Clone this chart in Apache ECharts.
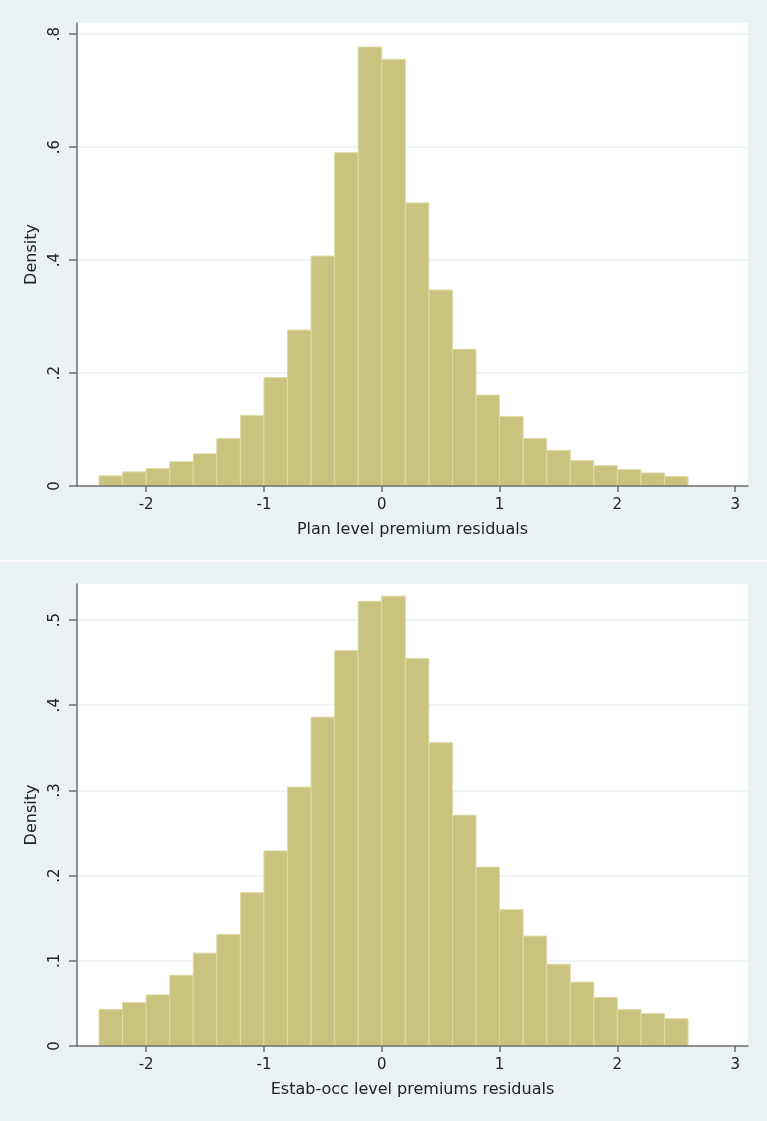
<!DOCTYPE html>
<html>
<head>
<meta charset="utf-8">
<script src="https://cdn.jsdelivr.net/npm/echarts@6/dist/echarts.min.js"></script>
<style>
  html, body { margin: 0; padding: 0; background: #eaf2f3; }
  #chart { width: 767px; height: 1121px; }
</style>
</head>
<body>
<div id="chart"></div>
<script>
// histogram bin edges (width 0.2)
const binEdges = [-2.4, -2.2, -2.0, -1.8, -1.6, -1.4, -1.2, -1.0, -0.8, -0.6, -0.4, -0.2,
                  0.0, 0.2, 0.4, 0.6, 0.8, 1.0, 1.2, 1.4, 1.6, 1.8, 2.0, 2.2, 2.4, 2.6];

// densities
const planDensity = [0.018, 0.025, 0.031, 0.043, 0.057, 0.084, 0.125, 0.192, 0.276, 0.407,
                     0.590, 0.777, 0.755, 0.501, 0.347, 0.242, 0.161, 0.123, 0.084, 0.063,
                     0.045, 0.036, 0.029, 0.023, 0.017];
const estabDensity = [0.043, 0.051, 0.060, 0.083, 0.109, 0.131, 0.180, 0.229, 0.304, 0.386,
                      0.464, 0.522, 0.528, 0.455, 0.356, 0.271, 0.210, 0.160, 0.129, 0.096,
                      0.075, 0.057, 0.043, 0.038, 0.032];

const xTicks = [-2, -1, 0, 1, 2, 3];
const planYTicks = [0, 0.2, 0.4, 0.6, 0.8];
const estabYTicks = [0, 0.1, 0.2, 0.3, 0.4, 0.5];

const xTitles = ['Plan level premium residuals', 'Estab-occ level premiums residuals'];

const font = 'DejaVu Sans';
const axisGray = '#6f6f6f';

function stataLabel(v) {
  if (v === 0) return '0';
  return String(+v.toFixed(2)).replace(/^0/, '');
}

function toBins(values) {
  return values.map((v, i) => [binEdges[i], binEdges[i + 1], v]);
}

function renderBar(params, api) {
  const p0 = api.coord([api.value(0), api.value(2)]);
  const p1 = api.coord([api.value(1), 0]);
  return {
    type: 'rect',
    shape: { x: p0[0], y: p0[1], width: p1[0] - p0[0], height: p1[1] - p0[1] },
    style: { fill: '#cac380', stroke: '#dedaa4', lineWidth: 1 }
  };
}

function xAxisFor(idx) {
  return {
    type: 'value',
    gridIndex: idx,
    min: -2.587,
    max: 3.109,
    z: 5,
    name: xTitles[idx],
    nameLocation: 'middle',
    nameGap: 36,
    nameTextStyle: { fontFamily: font, fontSize: 16, color: '#222' },
    axisLine: { show: true, onZero: false, lineStyle: { color: axisGray, width: 1.5 } },
    axisTick: { show: true, length: 6, customValues: xTicks, lineStyle: { color: axisGray, width: 1.5 } },
    axisLabel: { customValues: xTicks, fontFamily: font, fontSize: 15, color: '#222', margin: 12 },
    splitLine: { show: false }
  };
}

function yAxisFor(idx, max, ticks) {
  return {
    type: 'value',
    gridIndex: idx,
    min: 0,
    max: max,
    name: 'Density',
    nameLocation: 'middle',
    nameGap: 37,
    nameTextStyle: { fontFamily: font, fontSize: 16, color: '#222' },
    axisLine: { show: true, onZero: false, lineStyle: { color: axisGray, width: 1.5 } },
    axisTick: { show: true, length: 8, customValues: ticks, lineStyle: { color: axisGray, width: 1.5 } },
    axisLabel: {
      customValues: ticks, rotate: 90, fontFamily: font, fontSize: 15, color: '#222',
      margin: 14, formatter: stataLabel
    },
    splitLine: { show: true, lineStyle: { color: '#ebf2f3', width: 1.5 } }
  };
}

const chart = echarts.init(document.getElementById('chart'));
chart.setOption({
  backgroundColor: '#eaf2f3',
  animation: false,
  graphic: [
    { type: 'rect', left: 0, top: 560, shape: { width: 767, height: 2 }, style: { fill: '#ffffff' }, z: 0 }
  ],
  grid: [
    { left: 77, top: 23, width: 671, height: 463, show: true, backgroundColor: '#ffffff', borderWidth: 0 },
    { left: 77, top: 584, width: 671, height: 462, show: true, backgroundColor: '#ffffff', borderWidth: 0 }
  ],
  xAxis: [xAxisFor(0), xAxisFor(1)],
  yAxis: [yAxisFor(0, 0.8195, planYTicks), yAxisFor(1, 0.5423, estabYTicks)],
  series: [
    {
      type: 'custom', xAxisIndex: 0, yAxisIndex: 0,
      data: toBins(planDensity), renderItem: renderBar,
      encode: { x: [0, 1], y: 2 }
    },
    {
      type: 'custom', xAxisIndex: 1, yAxisIndex: 1,
      data: toBins(estabDensity), renderItem: renderBar,
      encode: { x: [0, 1], y: 2 }
    }
  ]
});
</script>
</body>
</html>
